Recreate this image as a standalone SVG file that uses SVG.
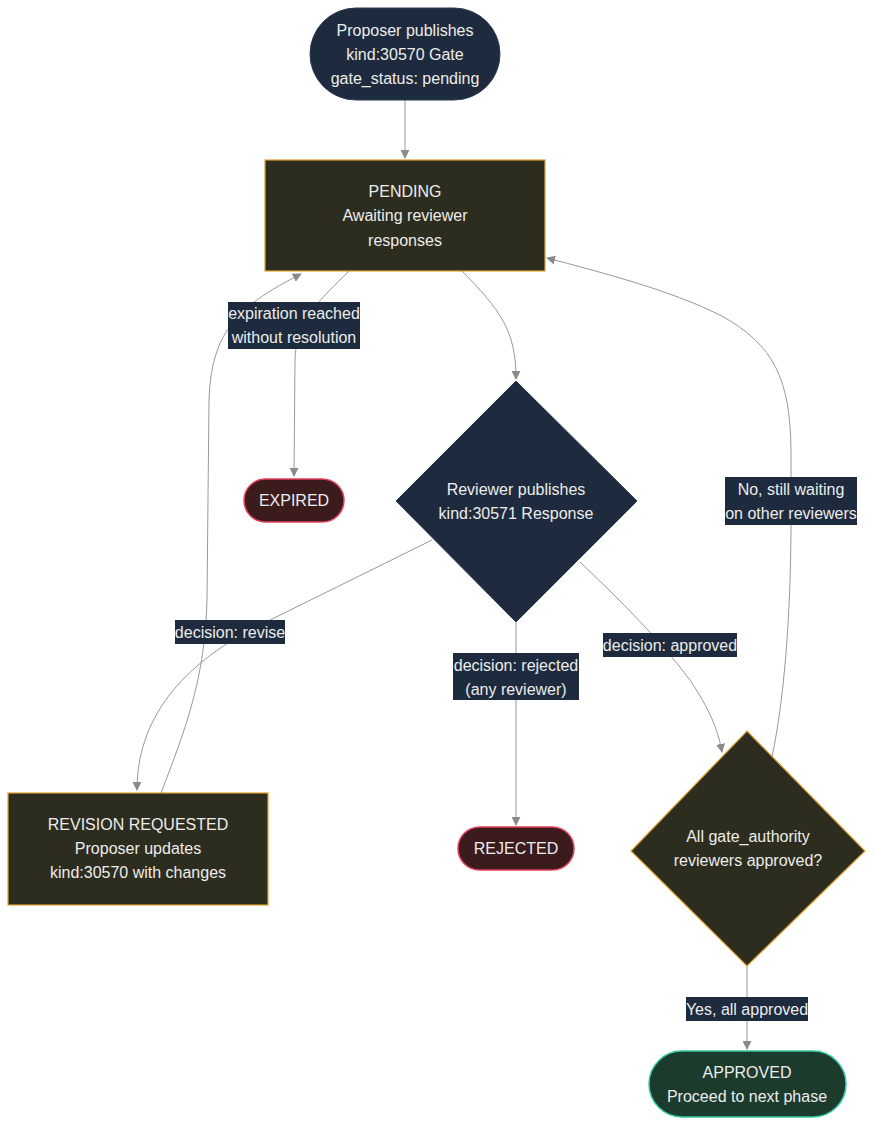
<svg xmlns="http://www.w3.org/2000/svg" width="875" height="1128" viewBox="0 0 875 1128">
<defs>
<marker id="arr" viewBox="0 0 10 10" refX="9" refY="5" markerWidth="9" markerHeight="9" markerUnits="userSpaceOnUse" orient="auto">
<path d="M0,0 L10,5 L0,10 z" fill="#8a8a8a"/>
</marker>
<style>
text{font-family:"Liberation Sans",Arial,sans-serif;font-size:16px;fill:#ececec;text-anchor:middle;dominant-baseline:central}
.navy{fill:#1e2b3e;stroke:#2b3d57;stroke-width:1}
.olive{fill:#2d2d1f;stroke:#e0a030;stroke-width:1.2}
.red{fill:#3c1b1d;stroke:#e0405a;stroke-width:1.5}
.green{fill:#1c3b2d;stroke:#2fcb9c;stroke-width:1.5}
.edge{fill:none;stroke:#999;stroke-width:1}
.lbl{fill:#1e2b3e}
</style>
</defs>
<rect width="875" height="1128" fill="#ffffff"/>
<g id="connectors">
<path class="edge" d="M405,100 L405,158" marker-end="url(#arr)"/>
<path class="edge" d="M349,271 C320,300 296,320 295,360 L294,476" marker-end="url(#arr)"/>
<path class="edge" d="M161,793 C185,730 205,680 207,600 L209,400 C211,330 240,305 301,274" marker-end="url(#arr)"/>
<path class="edge" d="M462,271 C500,310 516,330 516,379" marker-end="url(#arr)"/>
<path class="edge" d="M432,540 L260,625 C180,665 137,720 137,790" marker-end="url(#arr)"/>
<path class="edge" d="M516,622 L516,825" marker-end="url(#arr)"/>
<path class="edge" d="M580,562 C620,600 660,640 690,680 C710,710 718,730 722,752" marker-end="url(#arr)"/>
<path class="edge" d="M772,757 C786,690 791,600 791,520 L791,450 C790,380 775,345 720,315 C670,290 600,272 547,258" marker-end="url(#arr)"/>
<path class="edge" d="M747,966 L747,1049" marker-end="url(#arr)"/>
<g id="edge-labels">
<rect class="lbl" x="228" y="302" width="132" height="47"/>
<text x="294" y="313">expiration reached</text>
<text x="294" y="337">without resolution</text>
<rect class="lbl" x="175" y="620" width="110" height="24"/>
<text x="230" y="632">decision: revise</text>
<rect class="lbl" x="453" y="653" width="126" height="47"/>
<text x="516" y="665">decision: rejected</text>
<text x="516" y="689">(any reviewer)</text>
<rect class="lbl" x="603" y="633" width="134" height="24"/>
<text x="670" y="645">decision: approved</text>
<rect class="lbl" x="725" y="477" width="132" height="48"/>
<text x="791" y="489">No, still waiting</text>
<text x="791" y="513">on other reviewers</text>
<rect class="lbl" x="686" y="997" width="122" height="24"/>
<text x="747" y="1009">Yes, all approved</text>
</g>
</g>
<g id="start">
<rect class="navy" x="310" y="8" width="190" height="92" rx="46" ry="46"/>
<text x="405" y="30">Proposer publishes</text>
<text x="405" y="54">kind:30570 Gate</text>
<text x="405" y="78">gate_status: pending</text>
</g>
<g id="pending">
<rect class="olive" x="265" y="160" width="280" height="111"/>
<text x="405" y="191">PENDING</text>
<text x="405" y="215">Awaiting reviewer</text>
<text x="405" y="240">responses</text>
</g>
<g id="response">
<polygon class="navy" points="516,381 637,501 516,622 396,501"/>
<text x="516" y="489">Reviewer publishes</text>
<text x="516" y="513">kind:30571 Response</text>
</g>
<g id="expired">
<rect class="red" x="244" y="479" width="100" height="43" rx="21.5" ry="21.5"/>
<text x="294" y="500">EXPIRED</text>
</g>
<g id="rejected">
<rect class="red" x="458" y="827" width="116" height="43" rx="21.5" ry="21.5"/>
<text x="516" y="848">REJECTED</text>
</g>
<g id="revision">
<rect class="olive" x="8" y="793" width="260" height="112"/>
<text x="138" y="824">REVISION REQUESTED</text>
<text x="138" y="848">Proposer updates</text>
<text x="138" y="872">kind:30570 with changes</text>
</g>
<g id="allapproved">
<polygon class="olive" points="747,731 865,851 747,966 631,851"/>
<text x="748" y="836">All gate_authority</text>
<text x="748" y="860">reviewers approved?</text>
</g>
<g id="approved">
<rect class="green" x="649" y="1051" width="197" height="66" rx="33" ry="33"/>
<text x="747" y="1072">APPROVED</text>
<text x="747" y="1096">Proceed to next phase</text>
</g>
</svg>
